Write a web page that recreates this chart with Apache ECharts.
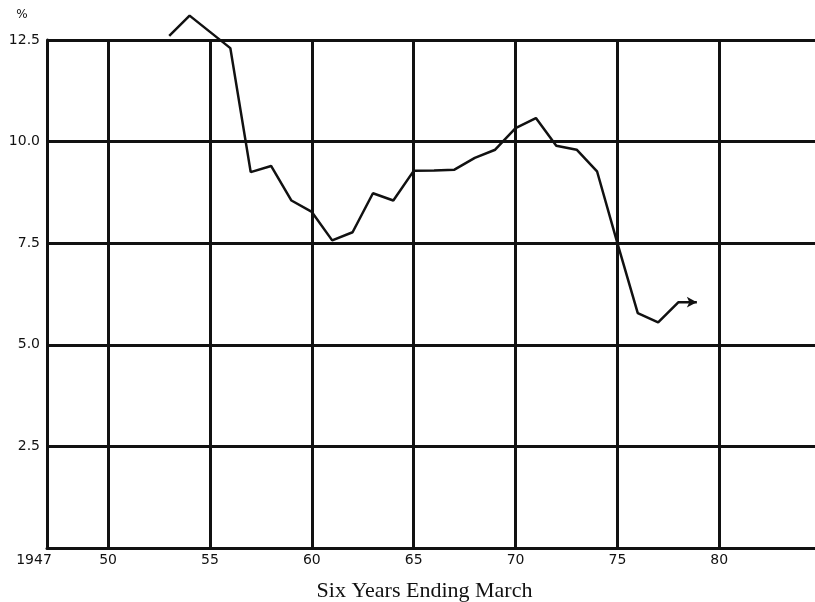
<!DOCTYPE html>
<html><head><meta charset="utf-8">
<script src="https://cdn.jsdelivr.net/npm/echarts@6/dist/echarts.min.js"></script>
<style>html,body{margin:0;padding:0;background:#fff}#c{width:815px;height:602px}</style>
</head><body><div id="c"></div>
<script>
const years = [1953,1954,1955,1956,1957,1958,1959,1960,1961,1962,1963,1964,1965,1966,1967,1968,1969,1970,1971,1972,1973,1974,1975,1976,1977,1978,1978.9];
const values = [12.6,13.1,12.7,12.3,9.25,9.4,8.55,8.27,7.57,7.77,8.73,8.55,9.28,9.29,9.31,9.6,9.8,10.33,10.58,9.9,9.8,9.27,7.5,5.78,5.55,6.05,6.05];
const xTicks = [1947,1950,1955,1960,1965,1970,1975,1980];
const xGridYears = [1950,1955,1960,1965,1970,1975,1980];
const xTitle = 'Six Years Ending March';
const yUnit = '%';

const data = years.map((y,i)=>[y,values[i]]);
const lineData = data.map((d,i)=> i===data.length-1 ? {value:d, symbol:'arrow', symbolSize:[8,10], symbolRotate:-90} : {value:d});

const numFont = 'DejaVu Sans';
const chart = echarts.init(document.getElementById('c'));
chart.setOption({
  animation:false,
  backgroundColor:'#fff',
  grid:{left:47,right:0,top:40,bottom:54,containLabel:false,outerBoundsMode:'none'},
  xAxis:{
    type:'value', min:1947, max:1984.7,
    name:xTitle, nameLocation:'middle', nameGap:32,
    nameTextStyle:{fontFamily:'Liberation Serif', fontSize:22, color:'#111', padding:[0,13,0,0]},
    axisLine:{show:true, onZero:false, lineStyle:{color:'#111', width:3}},
    axisTick:{show:false, customValues:xTicks},
    axisLabel:{customValues:xTicks, margin:5, fontFamily:numFont, fontSize:14, color:'#111',
      formatter:v=> v===1947 ? '{a|1947}' : String(v%100),
      rich:{a:{fontFamily:numFont, fontSize:14, color:'#111', padding:[0,26,0,0]}}},
    splitLine:{show:false}
  },
  yAxis:{
    type:'value', min:0, max:12.5, interval:2.5,
    name:yUnit, nameLocation:'end', nameGap:19,
    nameTextStyle:{fontFamily:numFont, fontSize:12, color:'#111', padding:[0,50,0,0]},
    axisLine:{show:true, lineStyle:{color:'#111', width:3}},
    axisTick:{show:false},
    axisLabel:{margin:7, fontFamily:numFont, fontSize:14, color:'#111',
      formatter:v=> v===0 ? '' : v.toFixed(1)},
    splitLine:{show:true, lineStyle:{color:'#111', width:3}}
  },
  series:[{
    type:'line', data:lineData, clip:false, symbol:'none',
    lineStyle:{color:'#111', width:2.5}, itemStyle:{color:'#111'},
    z:5,
    markLine:{silent:true, symbol:'none', label:{show:false},
      lineStyle:{color:'#111', width:3, type:'solid'},
      data:xGridYears.map(y=>({xAxis:y}))}
  }]
});
</script></body></html>
